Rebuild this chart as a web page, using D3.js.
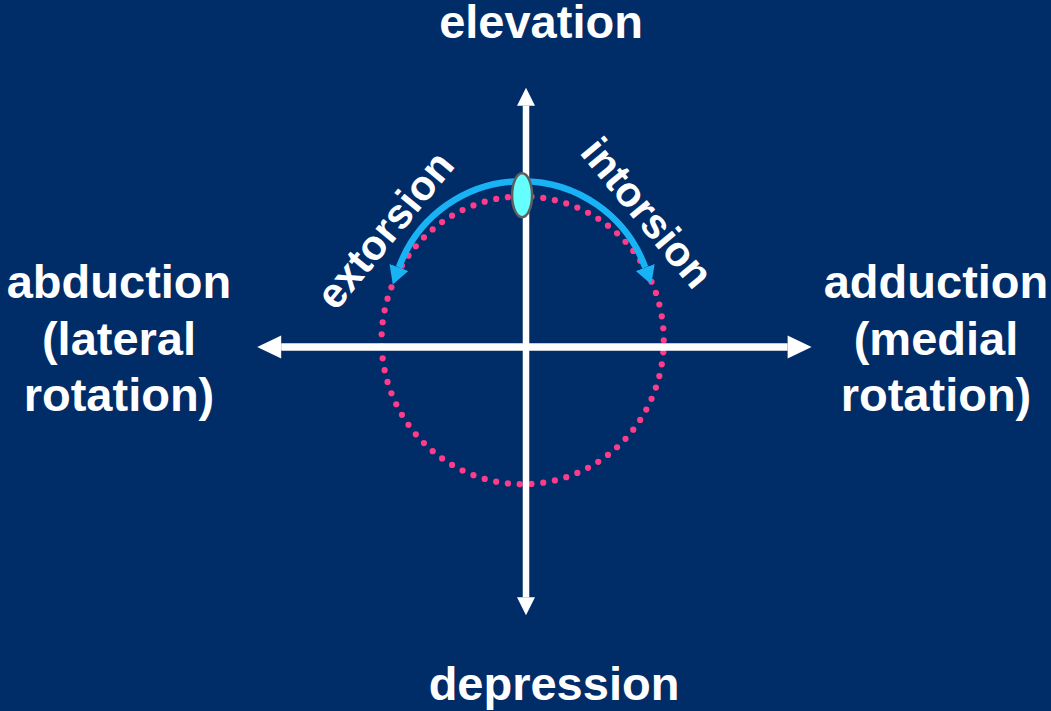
<!DOCTYPE html>
<html>
<head>
<meta charset="utf-8">
<script src="https://cdn.jsdelivr.net/npm/d3@7"></script>
<style>
  html, body { margin: 0; padding: 0; background: #002c68; }
  svg { display: block; }
  text { font-family: "Liberation Sans", Arial, sans-serif; font-weight: bold; fill: #fff; }
</style>
</head>
<body>
<div id="chart"></div>
<script>
// ---- diagram content ----
const verticalNames = ["elevation", "depression"];
const leftLabel = ["abduction", "(lateral", "rotation)"];
const rightLabel = ["adduction", "(medial", "rotation)"];
const torsionNames = ["extorsion", "intorsion"];

// axis reach in motion units (origin = primary position)
const horizReach = [-48, 51];
const vertReach = [-47.9, 46.3];

// dotted gaze circle and torsion arc (motion units / degrees)
const orbitCentre = [-0.6, 1.2];
const orbitRadii = [25.2, 25.7];
const orbitDotCount = 75;
const torsionCentre = [-0.7, 6.2];
const torsionRadius = 23.4;
const torsionEnds = [160, 20];   // arc runs from 90° (top) to each end

const W = 1051, H = 711;

// one unit = 5.6px, origin where the axes cross
const x = d3.scaleLinear().domain([0, 1]).range([526, 531.6]);
const y = d3.scaleLinear().domain([0, 1]).range([347, 341.4]);
const k = 5.6;

const svg = d3.select("#chart").append("svg")
  .attr("width", W).attr("height", H);

svg.append("rect").attr("width", W).attr("height", H).attr("fill", "#002c68");

// ---- dotted pink circle ----
const dots = d3.range(orbitDotCount).map(i => {
  const a = i / orbitDotCount * 2 * Math.PI;
  return [orbitCentre[0] + orbitRadii[0] * Math.cos(a), orbitCentre[1] + orbitRadii[1] * Math.sin(a)];
});
svg.append("g").selectAll("circle").data(dots).join("circle")
  .attr("cx", d => x(d[0])).attr("cy", d => y(d[1]))
  .attr("r", 3.1).attr("fill", "#ff3c8a");

// ---- axes with arrowheads ----
const axisG = svg.append("g").attr("fill", "#fff");
function arrow(x1, y1, x2, y2, width, headLen, headHalf) {
  const ang = Math.atan2(y2 - y1, x2 - x1);
  const bx = x2 - headLen * Math.cos(ang), by = y2 - headLen * Math.sin(ang);
  axisG.append("line")
    .attr("x1", x1).attr("y1", y1).attr("x2", bx).attr("y2", by)
    .attr("stroke", "#fff").attr("stroke-width", width);
  const nx = -Math.sin(ang), ny = Math.cos(ang);
  axisG.append("path")
    .attr("d", `M${x2},${y2}L${bx + nx * headHalf},${by + ny * headHalf}L${bx - nx * headHalf},${by - ny * headHalf}Z`);
}
// horizontal: both directions from the centre
arrow(x(0), y(0), x(horizReach[0]), y(0), 7.5, 24, 11.5);
arrow(x(0), y(0), x(horizReach[1]), y(0), 7.5, 24, 11.5);
arrow(x(0), y(0), x(0), y(vertReach[1]), 6.5, 18, 9);
arrow(x(0), y(0), x(0), y(vertReach[0]), 6.5, 18, 9);

// ---- torsion arc (blue) ----
svg.append("defs").append("marker")
  .attr("id", "tip").attr("markerUnits", "userSpaceOnUse")
  .attr("viewBox", "0 -11 22 22").attr("markerWidth", 22).attr("markerHeight", 22)
  .attr("refX", 0).attr("refY", 0).attr("orient", "auto")
  .append("path").attr("d", "M0,-10L18,0L0,10Z").attr("fill", "#19b3f5");

const arcPt = deg => {
  const a = deg * Math.PI / 180;
  return [x(torsionCentre[0] + torsionRadius * Math.cos(a)), y(torsionCentre[1] + torsionRadius * Math.sin(a))];
};
torsionEnds.forEach(end => {
  const s = arcPt(90), e = arcPt(end);
  const sweep = end > 90 ? 0 : 1;
  svg.append("path")
    .attr("d", `M${s[0]},${s[1]}A${torsionRadius * k},${torsionRadius * k} 0 0 ${sweep} ${e[0]},${e[1]}`)
    .attr("fill", "none").attr("stroke", "#19b3f5").attr("stroke-width", 6.5)
    .attr("marker-end", "url(#tip)");
});

// ---- eye marker on top ----
svg.append("ellipse")
  .attr("cx", x(-0.7)).attr("cy", y(27.1))
  .attr("rx", 10).attr("ry", 22)
  .attr("fill", "#66ffff").attr("stroke", "#5e5e5e").attr("stroke-width", 2.5);

// ---- labels ----
svg.append("text").attr("x", 541).attr("y", 38).attr("text-anchor", "middle")
  .style("font-size", "47px").text(verticalNames[0]);
svg.append("text").attr("x", 554).attr("y", 700).attr("text-anchor", "middle")
  .style("font-size", "47px").text(verticalNames[1]);

[[leftLabel, 119], [rightLabel, 936]].forEach(([lines, cx]) => {
  svg.append("g").selectAll("text").data(lines).join("text")
    .attr("x", cx).attr("y", (d, i) => 298 + i * 56.5)
    .attr("text-anchor", "middle")
    .style("font-size", "47px")
    .text(d => d);
});

const torsionPos = [[396, 239, -50.6], [636, 222, 50.4]];
svg.append("g").selectAll("text").data(torsionNames).join("text")
  .attr("transform", (d, i) => `translate(${torsionPos[i][0]},${torsionPos[i][1]}) rotate(${torsionPos[i][2]})`)
  .attr("text-anchor", "middle")
  .style("font-size", "42px")
  .text(d => d);
</script>
</body>
</html>
